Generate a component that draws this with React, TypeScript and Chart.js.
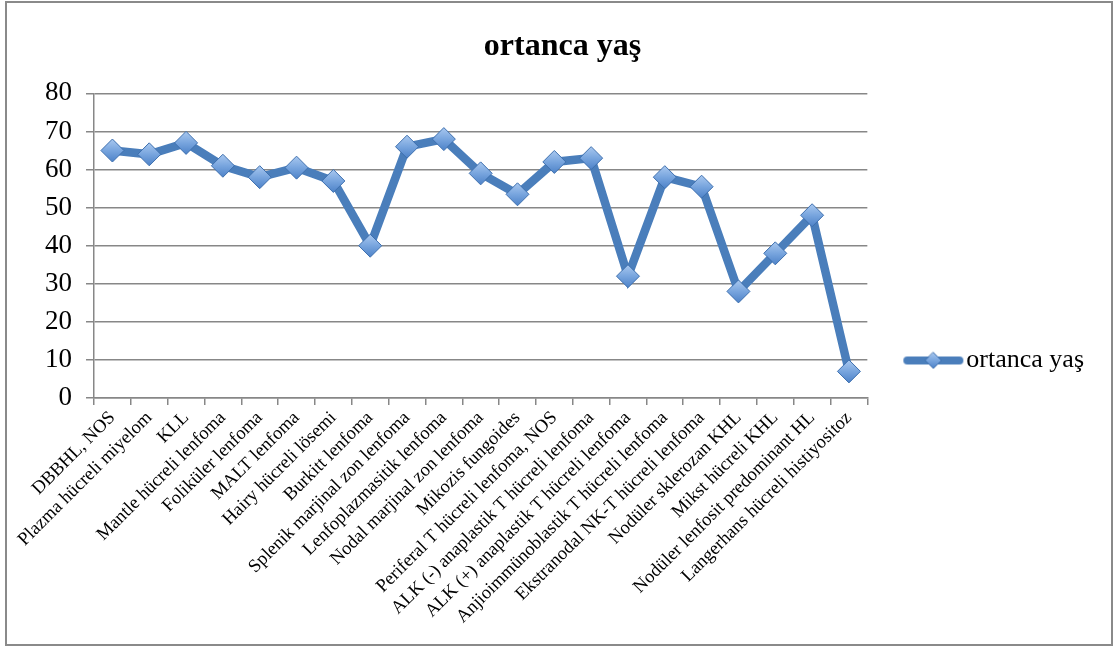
import { useEffect, useRef } from "react";
import { Chart, registerables } from "chart.js";

Chart.register(...registerables);

const chartTitle = "ortanca yaş";
const seriesName = "ortanca yaş";

const categories = [
  "DBBHL, NOS",
  "Plazma hücreli miyelom",
  "KLL",
  "Mantle hücreli lenfoma",
  "Foliküler lenfoma",
  "MALT lenfoma",
  "Hairy hücreli lösemi",
  "Burkitt lenfoma",
  "Splenik marjinal zon lenfoma",
  "Lenfoplazmasitik lenfoma",
  "Nodal marjinal zon lenfoma",
  "Mikozis fungoides",
  "Periferal T hücreli lenfoma, NOS",
  "ALK (-) anaplastik T hücreli lenfoma",
  "ALK (+) anaplastik T hücreli lenfoma",
  "Anjioimmünoblastik T hücreli lenfoma",
  "Ekstranodal NK-T hücreli lenfoma",
  "Nodüler sklerozan KHL",
  "Mikst hücreli KHL",
  "Nodüler lenfosit predominant HL",
  "Langerhans hücreli histiyositoz",
];

const medianAge = [
  65, 64, 67, 61, 58, 60.5, 57, 40, 66, 68, 59, 53.5, 62, 63, 32, 58, 55.5, 28, 38, 48, 7,
];

const yMin = 0;
const yMax = 80;
const yStep = 10;

const FONT = "'Liberation Serif', 'Times New Roman', serif";
const LINE_COLOR = "#4a7ebb";
const GRID_COLOR = "#878787";
const FILL_FALLBACK = "#78a5de";

function diamondGradient(ctx: CanvasRenderingContext2D, cy: number, r: number) {
  if (!Number.isFinite(cy)) return FILL_FALLBACK;
  const g = ctx.createLinearGradient(0, cy - r, 0, cy + r);
  g.addColorStop(0, "#a9c8ef");
  g.addColorStop(0.5, "#78a5de");
  g.addColorStop(1, "#4d82c8");
  return g;
}

function makeLegendSymbol(): HTMLCanvasElement {
  const c = document.createElement("canvas");
  c.width = 62;
  c.height = 22;
  const ctx = c.getContext("2d")!;
  ctx.strokeStyle = LINE_COLOR;
  ctx.lineWidth = 8;
  ctx.lineCap = "round";
  ctx.beginPath();
  ctx.moveTo(5, 11);
  ctx.lineTo(57, 11);
  ctx.stroke();
  const r = 8;
  ctx.beginPath();
  ctx.moveTo(31, 11 - r);
  ctx.lineTo(31 + r, 11);
  ctx.lineTo(31, 11 + r);
  ctx.lineTo(31 - r, 11);
  ctx.closePath();
  ctx.fillStyle = diamondGradient(ctx, 11, r);
  ctx.fill();
  ctx.strokeStyle = "#3d6fae";
  ctx.lineWidth = 1;
  ctx.stroke();
  return c;
}

export default function App() {
  const canvasRef = useRef<HTMLCanvasElement | null>(null);

  useEffect(() => {
    if (!canvasRef.current) return;
    const legendSymbol = makeLegendSymbol();
    const chart = new Chart(canvasRef.current, {
      type: "line",
      data: {
        labels: categories,
        datasets: [
          {
            label: seriesName,
            data: medianAge,
            borderColor: LINE_COLOR,
            borderWidth: 8.5,
            tension: 0,
            pointStyle: "rectRot",
            pointRadius: 11.5,
            pointHoverRadius: 11.5,
            pointBorderColor: "#3d6fae",
            pointBorderWidth: 1,
            pointBackgroundColor: (c: any) => {
              try {
                const ch = c.chart;
                const ys = ch.scales && ch.scales.y;
                if (!ys || !c.parsed) return FILL_FALLBACK;
                const py = ys.getPixelForValue(c.parsed.y);
                return diamondGradient(ch.ctx, py, 11.5);
              } catch (e) {
                return FILL_FALLBACK;
              }
            },
            backgroundColor: LINE_COLOR,
            fill: false,
          },
        ],
      },
      options: {
        animation: false,
        responsive: false,
        maintainAspectRatio: false,
        layout: {
          padding: { left: 24, right: 17, top: 0, bottom: 14 },
        },
        plugins: {
          title: {
            display: true,
            text: chartTitle,
            color: "#000",
            font: { family: FONT, size: 32, weight: "bold" },
            padding: { top: 25, bottom: 27 },
          },
          legend: {
            display: true,
            position: "right",
            align: "center",
            title: {
              display: true,
              text: " ",
              font: { family: FONT, size: 10 },
              padding: { top: 0, bottom: 76 },
            },
            labels: {
              color: "#000",
              font: { family: FONT, size: 26 },
              usePointStyle: true,
              pointStyleWidth: 40,
              padding: 46,
              generateLabels: (ch: any) => {
                const items = Chart.defaults.plugins.legend.labels.generateLabels(ch);
                return items.map((it: any) => ({ ...it, pointStyle: legendSymbol }));
              },
            },
          },
          tooltip: { enabled: false },
        },
        scales: {
          x: {
            type: "category",
            offset: true,
            grid: {
              display: true,
              drawOnChartArea: false,
              drawTicks: true,
              offset: true,
              tickLength: 7,
              color: GRID_COLOR,
              lineWidth: 1.5,
            },
            border: { display: true, color: GRID_COLOR, width: 1.5 },
            ticks: {
              autoSkip: false,
              maxRotation: 45,
              minRotation: 45,
              color: "#000",
              padding: 2,
              font: { family: FONT, size: 18.5 },
            },
          },
          y: {
            min: yMin,
            max: yMax,
            ticks: {
              stepSize: yStep,
              color: "#000",
              padding: 14,
              font: { family: FONT, size: 27 },
            },
            grid: {
              color: GRID_COLOR,
              lineWidth: 1.5,
              drawTicks: true,
              tickLength: 8,
            },
            border: { display: true, color: GRID_COLOR, width: 1.5 },
          },
        },
      },
    });
    return () => chart.destroy();
  }, []);

  return (
    <div
      style={{
        position: "absolute",
        left: 0,
        top: 0,
        width: 1115,
        height: 648,
        background: "#fff",
      }}
    >
      <div
        style={{
          position: "absolute",
          left: 5,
          top: 1,
          width: 1104,
          height: 641,
          border: "2px solid #8a8a8a",
          background: "#fff",
        }}
      >
        <canvas ref={canvasRef} width={1104} height={641} style={{ display: "block" }} />
      </div>
    </div>
  );
}
